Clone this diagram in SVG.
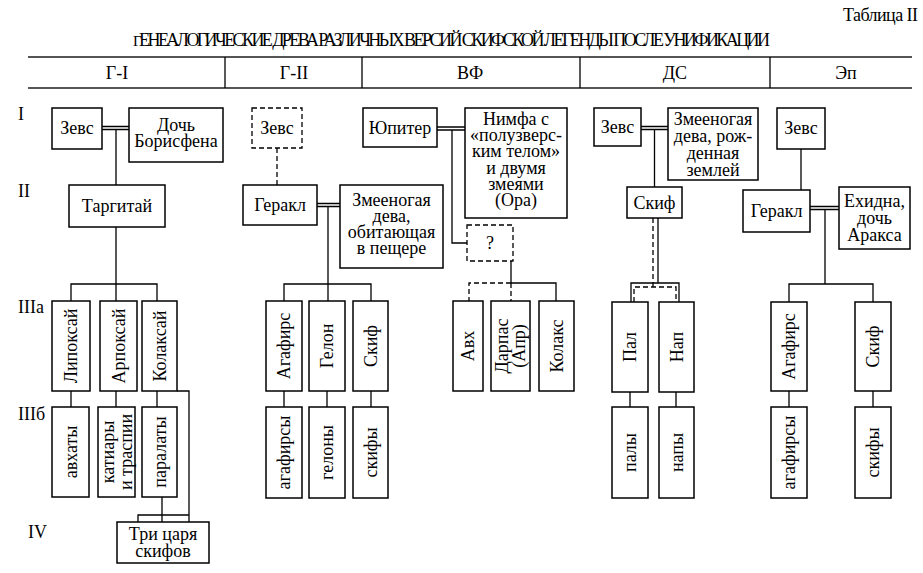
<svg xmlns="http://www.w3.org/2000/svg" width="923" height="573" viewBox="0 0 923 573">
<style>
.box{fill:#fff;stroke:#000;stroke-width:1.5}
.dbox{fill:#fff;stroke:#000;stroke-width:1.3;stroke-dasharray:5 3}
.ln{fill:none;stroke:#000;stroke-width:1.3}
.dash{stroke-dasharray:5 3}
.t{font-family:'Liberation Serif','Times New Roman',serif;font-size:18px;text-anchor:middle;fill:#000}
.lab{font-family:'Liberation Serif','Times New Roman',serif;font-size:18px;fill:#000}
.rule{stroke:#555;stroke-width:2}
.div{stroke:#000;stroke-width:1.3}
</style>
<rect width="923" height="573" fill="#fff"/>
<g id="header">
<text class="lab" x="843" y="21" font-size="15" textLength="75" lengthAdjust="spacing">Таблица II</text>
<text class="lab" x="133" y="46" font-size="11.5" textLength="637" lengthAdjust="spacing"><tspan font-size="15">Г</tspan>ЕНЕАЛОГИЧЕСКИЕ ДРЕВА РАЗЛИЧНЫХ ВЕРСИЙ СКИФСКОЙ ЛЕГЕНДЫ ПОСЛЕ УНИФИКАЦИИ</text>
<line class="rule" x1="28" y1="57" x2="912" y2="57"/>
<line class="rule" x1="28" y1="88" x2="912" y2="88"/>
<line class="div" x1="225" y1="57" x2="225" y2="88"/>
<line class="div" x1="362" y1="57" x2="362" y2="88"/>
<line class="div" x1="580" y1="57" x2="580" y2="88"/>
<line class="div" x1="770" y1="57" x2="770" y2="88"/>
<text class="t" x="117" y="79">Г-I</text>
<text class="t" x="294" y="79">Г-II</text>
<text class="t" x="470" y="79">ВФ</text>
<text class="t" x="675" y="79">ДС</text>
<text class="t" x="846" y="79">Эп</text>
</g>
<g id="rows">
<text class="lab" x="18" y="120">I</text>
<text class="lab" x="18" y="197">II</text>
<text class="lab" x="18" y="313">IIIа</text>
<text class="lab" x="18" y="420">IIIб</text>
<text class="lab" x="28" y="538">IV</text>
</g>
<g id="connectors">
<path class="ln" d="M102,126.5H129M102,129.5H129"/>
<path class="ln" d="M116,129.5V185M116,227V301M71,301V284H157V301"/>
<path class="ln" d="M71,391V407M116,391V407M157,391V407"/>
<path class="ln" d="M177,391H189V522M162,497V522M138,522V515H189"/>
<path class="ln dash" d="M277,148V185"/>
<path class="ln" d="M317,203.5H340M317,206.5H340"/>
<path class="ln" d="M328,206.5V301M284,301V284H371V301"/>
<path class="ln" d="M284,391V407M327,391V407M371,391V407"/>
<path class="ln" d="M437,127H465M437,130H465"/>
<path class="ln" d="M452,130V243H467"/>
<path class="ln" d="M511,261V283H556V301"/>
<path class="ln dash" d="M511,283H469V301M511,283V301"/>
<path class="ln" d="M641,126.5H668M641,129.5H668"/>
<path class="ln" d="M654.5,129.5V187"/>
<path class="ln" d="M658,218V283M631,302V283H679V302"/>
<path class="ln dash" d="M653,218V287M634,302V287H676V302"/>
<path class="ln" d="M630,392V407M676,392V407"/>
<path class="ln" d="M801,149V190"/>
<path class="ln" d="M810,206.5H839M810,209.5H839"/>
<path class="ln" d="M825,209.5V284M789,302V284H873V302"/>
<path class="ln" d="M789,391V407M873,391V407"/>
</g>
<g id="gi-zeus"><rect class="box" x="52" y="108" width="50" height="41"/><text class="t" x="77" y="134">Зевс</text></g>
<g id="gi-doch"><rect class="box" x="129" y="108" width="94" height="54"/><text class="t" x="176" y="131">Дочь</text><text class="t" x="176" y="147">Борисфена</text></g>
<g id="gi-targitai"><rect class="box" x="69" y="185" width="96" height="42"/><text class="t" x="117" y="212">Таргитай</text></g>
<g id="gi-lipoksai"><rect class="box" x="52" y="301" width="38" height="90"/><text class="t" transform="translate(71,346) rotate(-90)" y="6">Липоксай</text></g>
<g id="gi-arpoksai"><rect class="box" x="100" y="301" width="37" height="90"/><text class="t" transform="translate(118.5,346) rotate(-90)" y="6">Арпоксай</text></g>
<g id="gi-kolaksai"><rect class="box" x="142" y="301" width="35" height="90"/><text class="t" transform="translate(159.5,346) rotate(-90)" y="6">Колаксай</text></g>
<g id="gi-avkhaty"><rect class="box" x="52" y="407" width="37" height="90"/><text class="t" transform="translate(70.5,452) rotate(-90)" y="6">авхаты</text></g>
<g id="gi-katiary"><rect class="box" x="98" y="407" width="37" height="90"/><text class="t" transform="translate(116.5,452) rotate(-90)"><tspan x="0" y="-3">катиары</tspan><tspan x="0" y="15">и траспии</tspan></text></g>
<g id="gi-paralaty"><rect class="box" x="142" y="407" width="35" height="90"/><text class="t" transform="translate(159.5,452) rotate(-90)" y="6">паралаты</text></g>
<g id="gi-tri"><rect class="box" x="117" y="522" width="92" height="41"/><text class="t" x="163" y="540">Три царя</text><text class="t" x="163" y="557">скифов</text></g>
<g id="gii-zeus"><rect class="dbox" x="252" y="108" width="50" height="40"/><text class="t" x="277" y="134">Зевс</text></g>
<g id="gii-gerakl"><rect class="box" x="243" y="185" width="74" height="40"/><text class="t" x="280" y="211">Геракл</text></g>
<g id="gii-deva"><rect class="box" x="340" y="185" width="103" height="83"/><text class="t" x="391.5" y="206">Змееногая</text><text class="t" x="391.5" y="222">дева,</text><text class="t" x="391.5" y="238">обитающая</text><text class="t" x="391.5" y="254">в пещере</text></g>
<g id="gii-agafirs"><rect class="box" x="266" y="301" width="36" height="90"/><text class="t" transform="translate(284,346) rotate(-90)" y="6">Агафирс</text></g>
<g id="gii-gelon"><rect class="box" x="309" y="301" width="36" height="90"/><text class="t" transform="translate(327,346) rotate(-90)" y="6">Гелон</text></g>
<g id="gii-skif"><rect class="box" x="353" y="301" width="35" height="90"/><text class="t" transform="translate(370.5,346) rotate(-90)" y="6">Скиф</text></g>
<g id="gii-agafirsy"><rect class="box" x="266" y="407" width="36" height="91"/><text class="t" transform="translate(284,452.5) rotate(-90)" y="6">агафирсы</text></g>
<g id="gii-gelony"><rect class="box" x="309" y="407" width="36" height="91"/><text class="t" transform="translate(327,452.5) rotate(-90)" y="6">гелоны</text></g>
<g id="gii-skify"><rect class="box" x="353" y="407" width="35" height="91"/><text class="t" transform="translate(370.5,452.5) rotate(-90)" y="6">скифы</text></g>
<g id="vf-jupiter"><rect class="box" x="363" y="108" width="74" height="39"/><text class="t" x="400" y="134">Юпитер</text></g>
<g id="vf-nimfa"><rect class="box" x="465" y="108" width="102" height="110"/><text class="t" x="516" y="125">Нимфа с</text><text class="t" x="516" y="141">«полузверс-</text><text class="t" x="516" y="157">ким телом»</text><text class="t" x="516" y="174">и двумя</text><text class="t" x="516" y="190">змеями</text><text class="t" x="516" y="206">(Ора)</text></g>
<g id="vf-q"><rect class="dbox" x="467" y="225" width="46" height="36"/><text class="t" x="490" y="249">?</text></g>
<g id="vf-avkh"><rect class="box" x="453" y="301" width="30" height="90"/><text class="t" transform="translate(468,346) rotate(-90)" y="6">Авх</text></g>
<g id="vf-darpas"><rect class="box" x="491" y="301" width="39" height="90"/><text class="t" transform="translate(510.5,346) rotate(-90)"><tspan x="0" y="-3">Дарпас</tspan><tspan x="0" y="14">(Апр)</tspan></text></g>
<g id="vf-kolaks"><rect class="box" x="539" y="301" width="35" height="90"/><text class="t" transform="translate(556.5,346) rotate(-90)" y="6">Колакс</text></g>
<g id="ds-zeus"><rect class="box" x="594" y="108" width="47" height="38"/><text class="t" x="617.5" y="133">Зевс</text></g>
<g id="ds-deva"><rect class="box" x="668" y="108" width="90" height="72"/><text class="t" x="713" y="125">Змееногая</text><text class="t" x="713" y="142">дева, рож-</text><text class="t" x="713" y="159">денная</text><text class="t" x="713" y="176">землей</text></g>
<g id="ds-skif"><rect class="box" x="627" y="187" width="55" height="31"/><text class="t" x="654.5" y="209">Скиф</text></g>
<g id="ds-pal"><rect class="box" x="612" y="302" width="36" height="90"/><text class="t" transform="translate(630,347) rotate(-90)" y="6">Пал</text></g>
<g id="ds-nap"><rect class="box" x="659" y="302" width="35" height="90"/><text class="t" transform="translate(676.5,347) rotate(-90)" y="6">Нап</text></g>
<g id="ds-paly"><rect class="box" x="612" y="407" width="36" height="91"/><text class="t" transform="translate(630,452.5) rotate(-90)" y="6">палы</text></g>
<g id="ds-napy"><rect class="box" x="659" y="407" width="35" height="91"/><text class="t" transform="translate(676.5,452.5) rotate(-90)" y="6">напы</text></g>
<g id="ep-zeus"><rect class="box" x="777" y="108" width="48" height="41"/><text class="t" x="801" y="134">Зевс</text></g>
<g id="ep-gerakl"><rect class="box" x="743" y="190" width="67" height="42"/><text class="t" x="776.5" y="217">Геракл</text></g>
<g id="ep-ekhidna"><rect class="box" x="839" y="187" width="71" height="62"/><text class="t" x="874.5" y="207">Ехидна,</text><text class="t" x="874.5" y="224">дочь</text><text class="t" x="874.5" y="241">Аракса</text></g>
<g id="ep-agafirs"><rect class="box" x="771" y="302" width="36" height="89"/><text class="t" transform="translate(789,346.5) rotate(-90)" y="6">Агафирс</text></g>
<g id="ep-skif"><rect class="box" x="855" y="302" width="36" height="89"/><text class="t" transform="translate(873,346.5) rotate(-90)" y="6">Скиф</text></g>
<g id="ep-agafirsy"><rect class="box" x="771" y="407" width="36" height="91"/><text class="t" transform="translate(789,452.5) rotate(-90)" y="6">агафирсы</text></g>
<g id="ep-skify"><rect class="box" x="855" y="407" width="36" height="91"/><text class="t" transform="translate(873,452.5) rotate(-90)" y="6">скифы</text></g>
</svg>
